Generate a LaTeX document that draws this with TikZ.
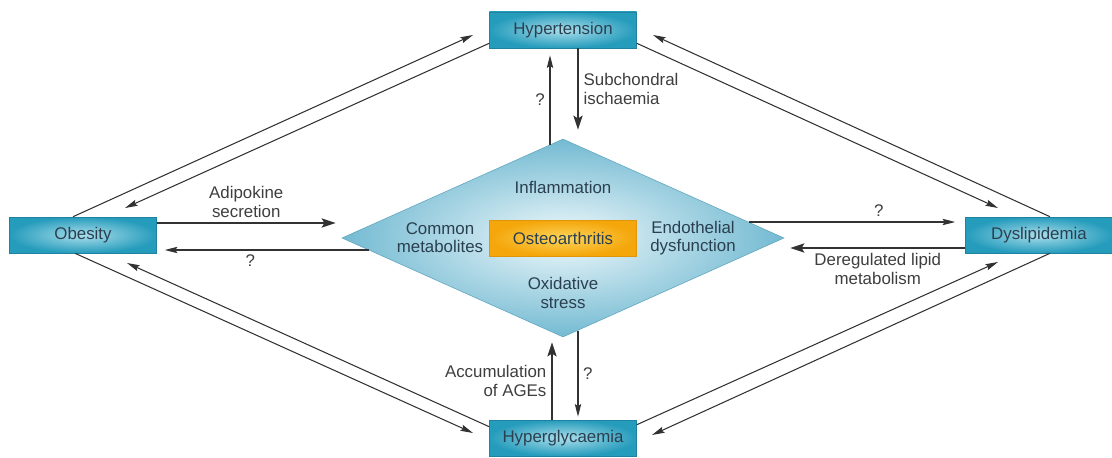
\documentclass[tikz,border=0pt]{standalone}
\usepackage{fontspec}
\setmainfont{Liberation Sans}
\usepackage{tikz}
\usetikzlibrary{shapes.geometric, positioning, arrows.meta}

\definecolor{tealin}{RGB}{170,222,235}
\definecolor{tealout}{RGB}{38,156,188}
\definecolor{tealedge}{RGB}{30,130,160}
\definecolor{diain}{RGB}{238,248,251}
\definecolor{diaout}{RGB}{115,186,210}
\definecolor{diaedge}{RGB}{95,165,190}
\definecolor{orangein}{RGB}{253,212,90}
\definecolor{orangeout}{RGB}{244,166,10}
\definecolor{orangeedge}{RGB}{225,150,10}
\definecolor{linegray}{RGB}{50,50,50}
\definecolor{txtgray}{RGB}{62,62,62}
\definecolor{boxtext}{RGB}{42,64,80}

\begin{document}
\begin{tikzpicture}[node distance=3cm, on grid, auto,
    font=\fontsize{12}{13}\selectfont, text=txtgray,
    riskbox/.style={rectangle, draw=tealedge, line width=0.4pt, inner color=tealin, outer color=tealout,
      minimum width=3.675cm, minimum height=0.9cm, text=boxtext},
    hub/.style={diamond, draw=diaedge, line width=0.4pt, inner color=diain, outer color=diaout,
      minimum width=11.05cm, minimum height=4.95cm, inner sep=0pt},
    core/.style={rectangle, draw=orangeedge, line width=0.4pt, inner color=orangein, outer color=orangeout,
      minimum width=3.675cm, minimum height=0.9cm, text=boxtext},
    link/.style={draw=linegray, line width=0.75pt, -{Stealth[length=9pt, width=4.5pt, inset=1.5pt]}},
    boldlink/.style={draw=linegray, line width=1.4pt, -{Stealth[length=10pt, width=6.5pt, inset=2pt]}}]
  \useasboundingbox (-14.075,-5.475) rectangle (13.725,5.95);

  \node[hub] (os) {};
  \node[core] (oa) {Osteoarthritis};
  \node[text=boxtext] (infl) [above=1.275cm of oa] {Inflammation};
  \node[text=boxtext, align=center] (cm) [left=3.075cm of oa] {Common\\metabolites};
  \node[text=boxtext, align=center] (ed) [right=3.25cm of oa] {Endothelial\\dysfunction};
  \node[text=boxtext, align=center] (ox) [below=1.375cm of oa] {Oxidative\\stress};

  \node[riskbox] (ht) [above=5.2cm of os] {Hypertension};
  \node[riskbox] (ob) [above left=0.075cm and 12cm of os] {Obesity};
  \node[riskbox] (dy) [above right=0.075cm and 11.9cm of os] {Dyslipidemia};
  \node[riskbox] (hg) [below=5cm of os] {Hyperglycaemia};

  \coordinate (ob-ht) at (-2.25,5.075);
  \coordinate (ht-ob) at (-10.95,0.75);
  \coordinate (ht-dy) at (10.875,0.75);
  \coordinate (dy-ht) at (2.25,5.075);
  \coordinate (ob-hg) at (-2.25,-4.875);
  \coordinate (hg-ob) at (-10.9,-0.625);
  \coordinate (hg-dy) at (10.875,-0.6);
  \coordinate (dy-hg) at (2.225,-4.925);

  \draw[link] ([xshift=-0.25cm]ob.north) -- (ob-ht);
  \draw[link] ([yshift=0.125cm]ht.south west) -- (ht-ob);
  \draw[link] ([yshift=0.125cm]ht.south east) -- (ht-dy);
  \draw[link] ([xshift=0.275cm]dy.north) -- (dy-ht);
  \draw[link] ([xshift=-0.2cm]ob.south) -- (ob-hg);
  \draw[link] ([yshift=-0.175cm]hg.north west) -- (hg-ob);
  \draw[link] ([yshift=-0.125cm]hg.north east) -- (hg-dy);
  \draw[link] ([xshift=0.275cm]dy.south) -- (dy-hg);

  \draw[link] ([xshift=-0.325cm,yshift=-0.146cm]os.north)
    -- node[left] {?} ([xshift=-0.325cm,yshift=-0.175cm]ht.south);
  \draw[boldlink] ([xshift=0.375cm]ht.south)
    -- node[right, align=left] {Subchondral\\ischaemia} ([xshift=0.375cm,yshift=0.225cm]os.north);
  \draw[boldlink] ([xshift=-0.275cm]hg.north)
    -- node[left, align=right] {Accumulation\\of AGEs} ([xshift=-0.275cm,yshift=-0.125cm]os.south);
  \draw[link] ([xshift=0.375cm,yshift=0.168cm]os.south)
    -- node[right] {?} ([xshift=0.375cm,yshift=0.075cm]hg.north);

  \draw[boldlink] ([yshift=0.3cm]ob.east)
    -- node[above, align=center] {Adipokine\\secretion} ([xshift=-0.15cm,yshift=0.375cm]os.west);
  \draw[link] ([xshift=0.67cm,yshift=-0.3cm]os.west)
    -- node[below, pos=0.58] {?} ([xshift=0.2cm,yshift=-0.375cm]ob.east);
  \draw[link] ([xshift=-0.893cm,yshift=0.4cm]os.east)
    -- node[above, pos=0.63] {?} ([xshift=-0.25cm,yshift=0.325cm]dy.west);
  \draw[boldlink] ([yshift=-0.325cm]dy.west)
    -- node[below, align=center] {Deregulated lipid\\metabolism} ([xshift=0.15cm,yshift=-0.25cm]os.east);
\end{tikzpicture}
\end{document}
